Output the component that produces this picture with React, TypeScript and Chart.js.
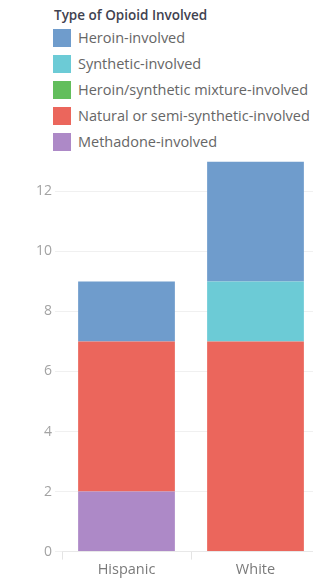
import React, { useEffect, useRef } from "react";
import { Chart, registerables } from "chart.js";

Chart.register(...registerables);

const categories = ["Hispanic", "White"];
const legendTitle = "Type of Opioid Involved";
const seriesNames = [
  "Heroin-involved",
  "Synthetic-involved",
  "Heroin/synthetic mixture-involved",
  "Natural or semi-synthetic-involved",
  "Methadone-involved",
];
const seriesColors = ["#6f9ccc", "#6ccbd6", "#62be5c", "#eb665c", "#ad89c7"];
const heroin = [2, 4];
const synthetic = [0, 2];
const mixture = [0, 0];
const natural = [5, 7];
const methadone = [2, 0];
const yMax = 13;
const yStep = 2;

const seriesValues = [heroin, synthetic, mixture, natural, methadone];

export default function App() {
  const ref = useRef<HTMLCanvasElement>(null);

  useEffect(() => {
    if (!ref.current) return;
    const datasets = seriesNames
      .map((name, i) => ({
        label: name,
        data: seriesValues[i],
        backgroundColor: seriesColors[i],
        borderWidth: 0,
        barPercentage: 0.75,
        categoryPercentage: 1,
      }))
      .reverse();
    const chart = new Chart(ref.current, {
      type: "bar",
      data: { labels: categories, datasets },
      options: {
        animation: false,
        responsive: false,
        maintainAspectRatio: false,
        layout: { padding: { top: 10, left: 0, right: 0, bottom: 0 } },
        plugins: { legend: { display: false }, tooltip: { enabled: false } },
        scales: {
          x: {
            stacked: true,
            grid: {
              offset: true,
              drawOnChartArea: false,
              drawTicks: true,
              tickLength: 8,
              color: "#e4e4e4",
            },
            border: { display: true, color: "#e8e8e8" },
            ticks: {
              padding: 2,
              color: "#7a7a7a",
              font: { family: "'Open Sans'", size: 14.5 },
            },
          },
          y: {
            stacked: true,
            min: 0,
            max: yMax,
            afterFit: (s: any) => {
              s.width = 62;
            },
            grid: {
              color: "#f0f0f0",
              drawTicks: true,
              tickLength: 7,
            },
            border: { display: false },
            ticks: {
              stepSize: yStep,
              includeBounds: false,
              padding: 3,
              color: "#a3a3a3",
              font: { family: "'Open Sans'", size: 14 },
            },
          },
        },
      },
    });
    return () => chart.destroy();
  }, []);

  return (
    <div
      style={{
        position: "absolute",
        left: 0,
        top: 0,
        width: 313,
        height: 581,
        overflow: "hidden",
        background: "#fff",
        fontFamily: "'Open Sans', sans-serif",
      }}
    >
      <div
        style={{
          position: "absolute",
          left: 54,
          top: 5,
          fontSize: 13.5,
          fontWeight: 600,
          color: "#3f4250",
          lineHeight: "20px",
          whiteSpace: "nowrap",
        }}
      >
        {legendTitle}
      </div>
      {seriesNames.map((name, i) => (
        <div
          key={name}
          style={{
            position: "absolute",
            left: 53,
            top: 28 + i * 26,
            height: 20,
            display: "flex",
            alignItems: "center",
            whiteSpace: "nowrap",
          }}
        >
          <div
            style={{
              width: 18,
              height: 18,
              background: seriesColors[i],
              marginRight: 7,
            }}
          />
          <span style={{ fontSize: 14.5, color: "#666", lineHeight: "20px" }}>
            {name}
          </span>
        </div>
      ))}
      <canvas
        ref={ref}
        width={320}
        height={431}
        style={{ position: "absolute", left: 0, top: 150, width: 320, height: 431 }}
      />
    </div>
  );
}
